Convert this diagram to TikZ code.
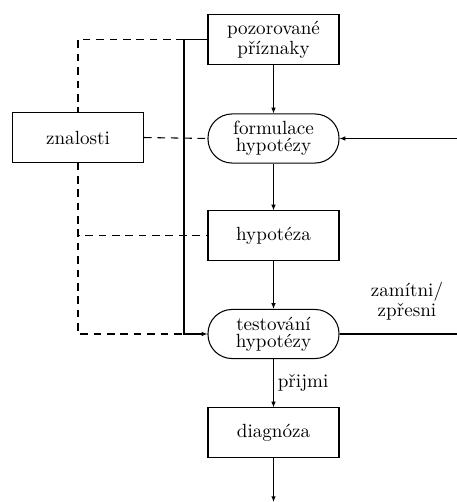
\documentclass[tikz,border=0pt]{standalone}
\usetikzlibrary{arrows.meta,calc}
\begin{document}
\begin{tikzpicture}[x=0.5236pt,y=-0.5236pt,
  line width=0.55pt,
  box/.style={draw,rectangle,minimum width=68.6pt,minimum height=25.7pt,inner sep=0pt,align=center,font=\fontsize{10}{10.5}\selectfont},
  rbox/.style={box,rounded corners=12.6pt,font=\fontsize{10}{9}\selectfont},
  arr/.style={-{Latex[length=3pt,width=2.4pt]}},
  dsh/.style={dash pattern=on 4pt off 3pt}]
\useasboundingbox (0,0) rectangle (457,502);
\node[box] (poz) at (273.5,39.5) {pozorované\\příznaky};
\node[rbox] (form) at (273.5,138.5) {formulace\\hypotézy};
\node[box] (hyp) at (273.5,235.5) {hypotéza};
\node[rbox] (test) at (273.5,334) {testování\\hypotézy};
\node[box] (diag) at (273.5,432.5) {diagnóza};
\node[box] (zn) at (78,137.5) {znalosti};
\coordinate (jt) at (184,39.5);
\coordinate (jb) at (184,334);
\coordinate (rin) at (457,138.5);
\coordinate (rout) at (457,334);
\coordinate (bot) at (273.5,502);
\draw[arr] (poz) -- (form);
\draw[arr] (form) -- (hyp);
\draw[arr] (hyp) -- (test);
\draw[arr] (test) -- node[right,font=\fontsize{10}{11.5}\selectfont,inner sep=2pt] {přijmi} (diag);
\draw[arr] (diag) -- (bot);
\draw[arr] (rin) -- (form.east);
\draw (test.east) -- (rout);
\node[align=center,font=\fontsize{10}{10.5}\selectfont] (zl) at (407,301) {zamítni/\\zpřesni};
\draw[arr] (poz.west) -- (jt) -- (jb) -- (test.west);
\draw[dsh] (jt) -| (zn.north);
\draw[dsh] (zn.east) -- (form.west);
\draw[dsh] (zn.south) |- (hyp.west);
\draw[dsh] (zn.south) |- (jb);
\end{tikzpicture}
\end{document}
